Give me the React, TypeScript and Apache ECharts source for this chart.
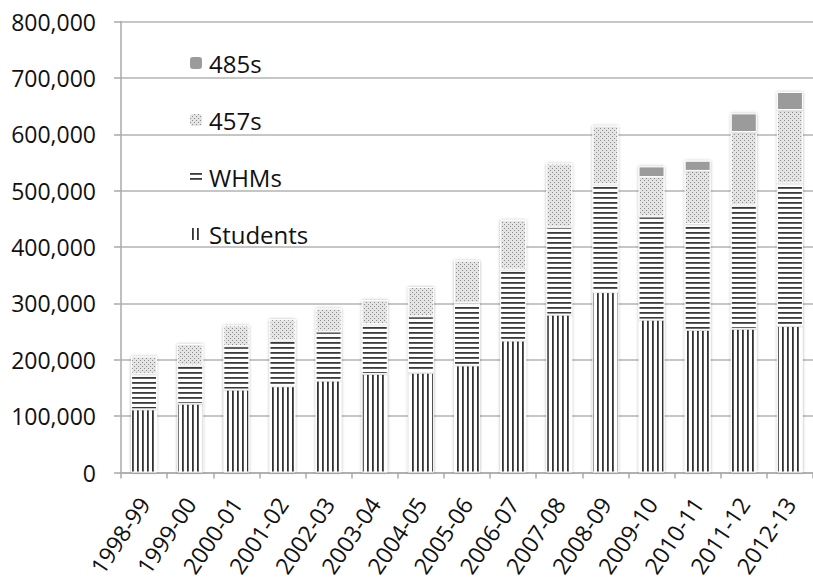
import React, { useEffect, useRef } from "react";
import * as echarts from "echarts";

// Financial years on the category axis
const categories = [
  "1998-99", "1999-00", "2000-01", "2001-02", "2002-03", "2003-04", "2004-05",
  "2005-06", "2006-07", "2007-08", "2008-09", "2009-10", "2010-11", "2011-12", "2012-13",
];

// Visa grants by type (stacked)
const students = [112000, 122000, 147000, 153000, 163000, 175000, 177000, 190000, 234000, 280000, 320000, 271000, 253000, 255000, 260000];
const whms = [63000, 68000, 77000, 81000, 87000, 88000, 100000, 111000, 126000, 155000, 191000, 183000, 188000, 219000, 253000];
const visa457 = [31000, 38000, 37000, 38000, 41000, 43000, 52000, 75000, 88000, 113000, 104000, 70000, 94000, 130000, 130000];
const visa485: (number | null)[] = [null, null, null, null, null, null, null, null, null, null, null, 19000, 18000, 33000, 32000];

const legendOrder = ["485s", "457s", "WHMs", "Students"];

function makeCanvas(w: number, h: number, draw: (ctx: CanvasRenderingContext2D) => void) {
  const c = document.createElement("canvas");
  c.width = w;
  c.height = h;
  const ctx = c.getContext("2d")!;
  ctx.fillStyle = "#ffffff";
  ctx.fillRect(0, 0, w, h);
  draw(ctx);
  return c;
}

export default function App() {
  const ref = useRef<HTMLDivElement>(null);

  useEffect(() => {
    if (!ref.current) return;
    const chart = echarts.init(ref.current, undefined, { renderer: "svg" });

    const vStripes = makeCanvas(5, 5, (ctx) => {
      ctx.fillStyle = "#333333";
      ctx.fillRect(2, 0, 1.8, 5);
    });
    const hStripes = makeCanvas(5, 5, (ctx) => {
      ctx.fillStyle = "#3a3a3a";
      ctx.fillRect(0, 2, 5, 1.8);
    });
    const dots = makeCanvas(4, 4, (ctx) => {
      ctx.fillStyle = "#e4e4e4";
      ctx.fillRect(0, 0, 4, 4);
      ctx.fillStyle = "#8c8c8c";
      ctx.fillRect(0, 0, 1, 1);
      ctx.fillRect(2, 2, 1, 1);
    });

    const font = "Open Sans";
    const baseItem = {
      borderColor: "#ffffff",
      borderWidth: 1,
      shadowBlur: 3,
      shadowColor: "rgba(0,0,0,0.3)",
    };

    const seriesBase = {
      type: "bar" as const,
      stack: "total",
      barWidth: 26,
    };

    chart.setOption({
      animation: false,
      backgroundColor: "#ffffff",
      textStyle: { fontFamily: font },
      grid: { left: 121, right: -4, top: 21.5, bottom: 104 },
      legend: {
        orient: "vertical",
        left: 185,
        top: 46,
        itemWidth: 12,
        itemHeight: 12,
        itemGap: 33,
        data: legendOrder,
        itemStyle: { borderWidth: 0, shadowBlur: 0 },
        textStyle: { fontFamily: font, fontSize: 24, color: "#111111", padding: [0, 0, 0, 2] },
      },
      xAxis: {
        type: "category",
        data: categories,
        axisLine: { lineStyle: { color: "#aaaaaa", width: 1.5 } },
        axisTick: { show: true, length: 6, lineStyle: { color: "#aaaaaa", width: 1.5 } },
        axisLabel: {
          interval: 0,
          rotate: 56,
          margin: 27,
          fontFamily: font,
          fontSize: 23,
          color: "#111111",
        },
      },
      yAxis: {
        type: "value",
        min: 0,
        max: 800000,
        interval: 100000,
        axisLine: { show: true, lineStyle: { color: "#aaaaaa", width: 1.5 } },
        axisTick: { show: true, length: 7, lineStyle: { color: "#aaaaaa", width: 1.5 } },
        splitLine: { lineStyle: { color: "#b3b3b3", width: 1.5 } },
        axisLabel: {
          margin: 25,
          fontFamily: font,
          fontSize: 23,
          color: "#111111",
          formatter: (v: number) => v.toLocaleString("en-US"),
        },
      },
      series: [
        { ...seriesBase, name: "Students", data: students, itemStyle: { ...baseItem, color: { image: vStripes, repeat: "repeat" } } },
        { ...seriesBase, name: "WHMs", data: whms, itemStyle: { ...baseItem, color: { image: hStripes, repeat: "repeat" } } },
        { ...seriesBase, name: "457s", data: visa457, itemStyle: { ...baseItem, color: { image: dots, repeat: "repeat" } } },
        { ...seriesBase, name: "485s", data: visa485, itemStyle: { ...baseItem, color: "#9b9b9b" } },
      ],
    });

    return () => chart.dispose();
  }, []);

  return (
    <div
      ref={ref}
      style={{ position: "fixed", left: 0, top: 0, width: 813, height: 580 }}
    />
  );
}
